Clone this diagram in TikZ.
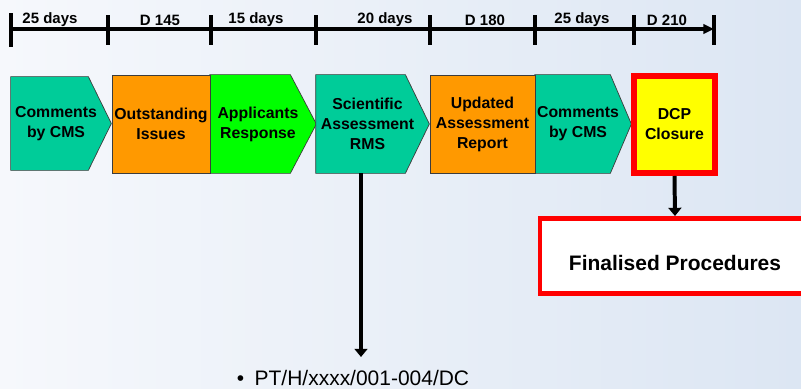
\documentclass[tikz,border=0pt]{standalone}
\usepackage{fontspec}
\setmainfont{Liberation Sans}
\usetikzlibrary{arrows.meta,calc,backgrounds}
\definecolor{cms}{RGB}{0,204,153}
\definecolor{issue}{RGB}{255,153,0}
\definecolor{reply}{RGB}{0,255,0}
\definecolor{closure}{RGB}{255,255,0}
\definecolor{alert}{RGB}{255,0,0}
\definecolor{edge}{RGB}{60,60,60}
\definecolor{bgleft}{RGB}{246,248,252}
\definecolor{bgright}{RGB}{220,230,243}
% pentagon behind a stage node: name, fill, pointer depth (tip sits 10 past the node)
\newcommand{\chevronfill}[3]{\filldraw[fill=#2, draw=edge, line width=0.6pt]
  (#1.north west) -- ($(#1.north east)+(10-#3,0)$) -- ($(#1.east)+(10,0)$)
  -- ($(#1.south east)+(10-#3,0)$) -- (#1.south west) -- cycle;}
\begin{document}
\begin{tikzpicture}[x=0.03cm, y=-0.03cm, font=\fontsize{13.5}{17}\selectfont\bfseries]
  \tikzset{
    stage/.style={draw=edge, line width=0.6pt, minimum height=2.94cm, inner sep=1pt, align=center},
    chevron/.style={stage, draw=none},
    daylabel/.style={font=\fontsize{12.8}{15}\selectfont\bfseries, inner sep=0pt},
    tick/.style={line width=2.6pt},
    drop/.style={line width=3.4pt, -{Triangle[length=7pt,width=11pt]}}
  }
  \useasboundingbox (0,0) rectangle (801,389);
  \clip (0,0) rectangle (801,389);

  % timeline
  \coordinate (t0) at (11,29);
  \coordinate (tend) at (714,29);
  \draw[tick, -{Triangle[length=9pt,width=8pt]}] (t0) -- (tend);
  \draw[tick] (11,13) -- (11,47);
  \foreach \x in {108,211,316,430,535,714}
    \draw[tick] (\x,15) -- (\x,45);
  \draw[line width=3.4pt] (634,15) -- (634,45);
  \foreach \x/\lab [count=\i] in {50/25 days, 160/D 145, 256/15 days, 385/20 days, 485/D 180, 582/25 days, 667/D 210}
    \node[daylabel] (d\i) at (\x,20) {\lab};

  % stages (chevron nodes stop 10 short of their tip)
  \node[chevron, minimum width=2.7cm, minimum height=2.79cm] (c1) at (56,123.5) {Comments\\by CMS};
  \node[stage, fill=issue, minimum width=2.94cm] (o1) at (161,124) {Outstanding\\Issues};
  \node[chevron, minimum width=2.88cm] (a1) at (258,124) {Applicants\\Response};
  \node[chevron, minimum width=3.09cm] (s1) at (367.5,124) {Scientific\\Assessment\\RMS};
  \node[stage, fill=issue, minimum width=3.15cm] (u1) at (482.5,124) {Updated\\Assessment\\Report};
  \node[chevron, minimum width=2.58cm] (c2) at (578,124) {Comments\\by CMS};
  \node[draw=alert, line width=5.1pt, fill=closure, minimum width=2.43cm, minimum height=2.91cm,
        inner sep=1pt, align=center] (dcp) at (674.5,124.5) {DCP\\Closure};

  % outcomes
  \node[draw=alert, line width=4.25pt, fill=white, minimum width=8.1cm, minimum height=2.25cm,
        font=\fontsize{17.9}{21}\selectfont\bfseries] (final) at (675,256)
        {\raisebox{-12pt}[0pt][0pt]{Finalised Procedures}};
  \node[font=\fontsize{17.9}{21}\selectfont, inner sep=0pt] (pt) at (353,378) {•\enspace PT/H/xxxx/001-004/DC};
  \coordinate (ptdrop) at (361,357);
  \draw[drop] (s1.south -| ptdrop) -- (ptdrop);
  \draw[drop] (dcp.south) -- (final.north);

  \begin{scope}[on background layer]
    \shade[left color=bgleft, right color=bgright] (0,0) rectangle (801,389);
    \chevronfill{c1}{cms}{23}
    \chevronfill{a1}{reply}{26}
    \chevronfill{s1}{cms}{24}
    \chevronfill{c2}{cms}{21}
  \end{scope}
\end{tikzpicture}
\end{document}
